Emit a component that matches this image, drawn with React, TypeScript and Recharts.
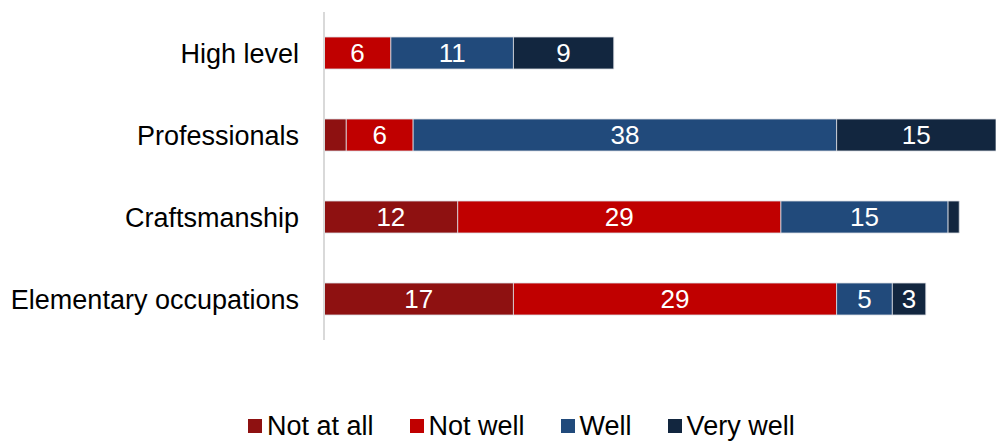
import { BarChart, Bar, XAxis, YAxis, Legend, LabelList } from 'recharts';

const categories = ['High level', 'Professionals', 'Craftsmanship', 'Elementary occupations'];
const notAtAll = [0, 2, 12, 17];
const notWell = [6, 6, 29, 29];
const well = [11, 38, 15, 5];
const veryWell = [9, 15, 1, 3];

const seriesNames = ['Not at all', 'Not well', 'Well', 'Very well'];
const seriesKeys = ['notAtAll', 'notWell', 'well', 'veryWell'];
const seriesColors = ['#8E1111', '#C00000', '#214A7B', '#12263F'];

const data = categories.map((name, i) => ({
    name,
    notAtAll: notAtAll[i],
    notWell: notWell[i],
    well: well[i],
    veryWell: veryWell[i],
}));

const FONT = '"Liberation Sans", Arial, Helvetica, sans-serif';

// white value labels, skipped on the thin segments
const renderLabel = (props: any) => {
    const { x, y, width, height, value } = props;
    if (value == null || value < 3) return null;
    return (
        <text
            x={x + width / 2}
            y={y + height / 2 + 9}
            textAnchor="middle"
            fill="#fff"
            fontSize={26}
            fontFamily={FONT}
        >
            {value}
        </text>
    );
};

const renderLegend = () => (
    <div
        style={{
            display: 'flex',
            alignItems: 'center',
            height: 30,
            paddingLeft: 248,
            fontFamily: FONT,
            fontSize: 27,
            color: '#000',
        }}
    >
        {seriesNames.map((n, i) => (
            <div key={n} style={{ display: 'flex', alignItems: 'center', marginRight: 36 }}>
                <span style={{ width: 14, height: 14, background: seriesColors[i], marginRight: 5 }} />
                <span>{n}</span>
            </div>
        ))}
    </div>
);

export default function App() {
    return (
        <div style={{ position: 'absolute', left: 0, top: 0, width: 996, height: 441, background: '#fff' }}>
            <BarChart
                width={996}
                height={441}
                data={data}
                layout="vertical"
                margin={{ top: 12, right: 0, left: 0, bottom: 71 }}
            >
                <XAxis type="number" domain={[0, 60.3]} allowDataOverflow hide />
                <YAxis
                    type="category"
                    dataKey="name"
                    width={324}
                    axisLine={{ stroke: '#D9D9D9', strokeWidth: 2 }}
                    tickLine={false}
                    tickMargin={19}
                    tick={{ fontSize: 27, fill: '#000', fontFamily: FONT }}
                />
                <Legend
                    verticalAlign="bottom"
                    content={renderLegend}
                    wrapperStyle={{ left: 0, bottom: 0, width: 996 }}
                />
                {seriesKeys.map((k, i) => (
                    <Bar
                        key={k}
                        dataKey={k}
                        name={seriesNames[i]}
                        stackId="a"
                        fill={seriesColors[i]}
                        stroke="#DADDE3"
                        strokeWidth={0.8}
                        barSize={32}
                        isAnimationActive={false}
                    >
                        <LabelList dataKey={k} content={renderLabel} />
                    </Bar>
                ))}
            </BarChart>
        </div>
    );
}
